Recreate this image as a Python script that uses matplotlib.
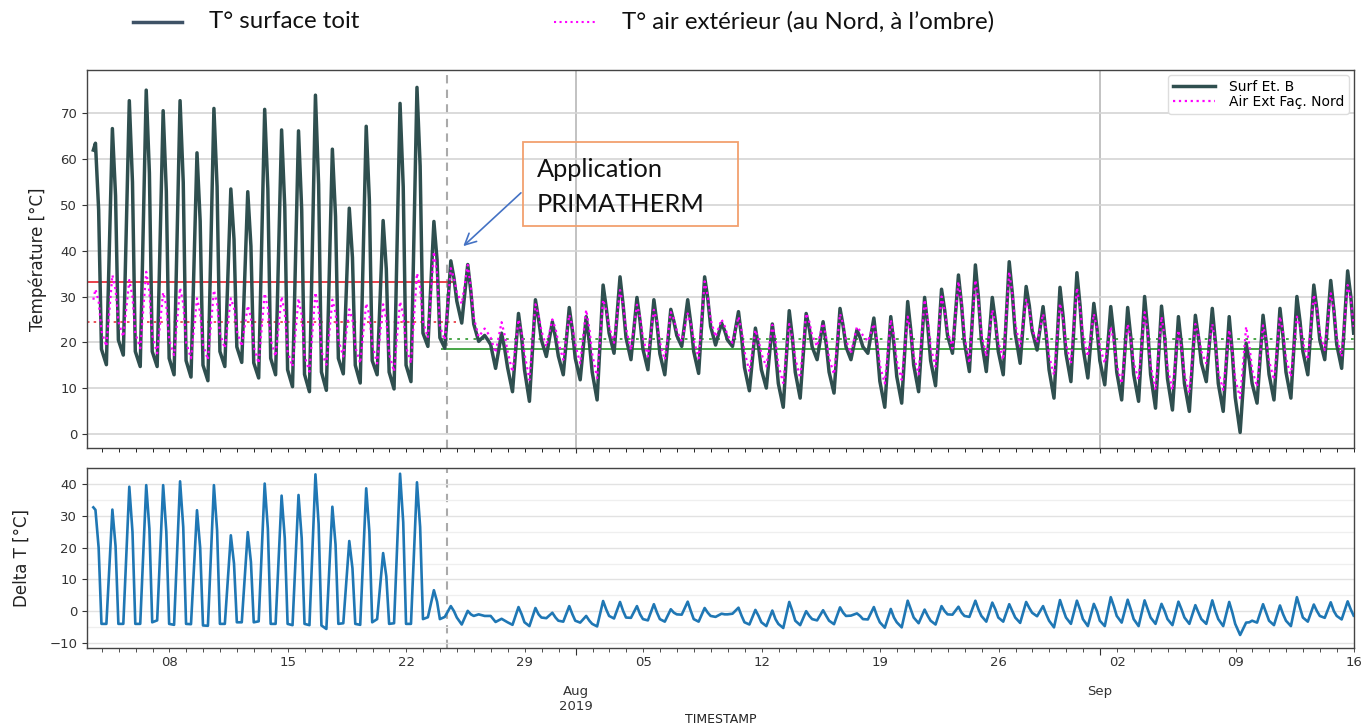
import numpy as np
import pandas as pd
import matplotlib
matplotlib.use('Agg')
import matplotlib.pyplot as plt
import matplotlib.dates as mdates
from matplotlib.ticker import MultipleLocator, FuncFormatter
from matplotlib.lines import Line2D
from matplotlib.patches import Rectangle

nan = np.nan
# ---------------- data ----------------
days = pd.date_range('2019-07-03', '2019-09-15', freq='D')

# roof surface temperature: morning min (06h30), afternoon max (15h), early evening (19h30), night (23h30)
s_min = [nan, 15.1, 17.2, 14.7, 14.7, 12.9, 12.4, 11.6, 14.7, 15.6, 12.2, 12.9, 10.3, 9.2, 9.5, 13.1,
         11.1, 12.9, 9.8, 11.4, 19.1, 18.7, 24.2, 20.2, 14.3, 9.2, 7.1, 16.9, 12.9, 11.8, 7.4,
         17.6, 16.2, 14.0, 12.9, 19.1, 13.2, 19.4, 19.1, 9.4, 10.0, 5.8, 7.8, 16.2, 8.9, 16.2,
         17.6, 5.8, 6.7, 9.2, 10.5, 17.6, 13.6, 13.6, 12.9, 15.4, 18.3, 7.8, 11.4, 12.2, 10.7,
         7.4, 7.1, 5.6, 5.2, 4.9, 11.4, 4.9, 0.3, 6.7, 7.4, 7.8, 12.9, 16.2, 14.3]
s_max = [63.5, 66.7, 72.8, 75.1, 70.6, 72.8, 61.4, 71.1, 53.5, 52.9, 70.9, 66.4, 66.2, 74.0, 62.2,
         49.3, 67.2, 46.6, 72.2, 75.7, 46.4, 37.8, 37.0, 21.5, 22.0, 26.3, 29.3, 24.5, 27.6, 25.6,
         32.5, 34.3, 29.8, 29.3, 27.2, 29.3, 34.3, 24.2, 26.7, 23.1, 24.0, 26.9, 26.3, 24.5, 27.4,
         22.7, 25.3, 25.6, 28.9, 29.8, 31.6, 34.7, 36.9, 29.8, 37.6, 32.2, 27.8, 32.0, 35.2, 28.5,
         27.8, 27.6, 30.0, 27.9, 25.6, 25.9, 27.4, 25.6, 19.8, 25.9, 27.4, 30.0, 32.5, 33.5, 35.6]
s_fall = [49, 52, 55, 57, 53, 55, 46.5, 54, 42.5, 41, 53.5, 49.5, 49, 54.5, 47.5,
          38.5, 51, 36, 54, 58.5, 38, 34, 31, 20.5, 18.5, 21, 25, 21, 22.5, 20,
          27.5, 28, 24.5, 24, 24.5, 24, 29.5, 22.5, 21, 19, 18, 21, 23, 19.5, 23.5,
          21, 19, 19.5, 22.5, 23.5, 27, 28, 29.5, 24.5, 30.5, 28, 21.5, 25.5, 28, 23,
          21.5, 21, 22.5, 21, 19, 21, 20, 17.5, 16, 20, 21, 24.5, 27, 27, 30]
s_night = [18.5, 20.5, 18.0, 18.0, 16.5, 16.0, 15.0, 18.0, 19.0, 15.5, 16.5, 14.0, 13.0, 13.5, 16.5,
           15.0, 16.0, 13.5, 15.0, 22.0, 21.0, 29.0, 24.0, 19.5, 14.5, 14.0, 20.5, 17.0, 16.5, 13.5,
           22.0, 21.0, 18.5, 17.5, 21.5, 18.0, 23.5, 20.5, 14.5, 14.0, 11.0, 13.5, 19.0, 13.5, 19.0,
           19.0, 11.5, 12.5, 15.0, 16.0, 21.5, 20.0, 20.5, 18.0, 22.0, 22.5, 14.0, 17.5, 19.0, 16.0,
           13.5, 13.0, 13.0, 12.0, 11.0, 15.5, 11.0, 8.0, 11.0, 13.0, 13.5, 18.0, 20.5, 19.5, 22.0]

# outside air temperature (north facade, shade)
a_min = [nan, 19.1, 21.2, 18.7, 17.6, 17.2, 16.5, 16.2, 18.7, 19.1, 15.4, 16.9, 14.7, 13.6, 15.1, 16.9,
         15.4, 15.4, 13.6, 15.4, 21.0, 20.5, 28.4, 21.2, 17.7, 13.5, 11.8, 19.1, 16.2, 15.4, 12.2,
         19.9, 18.3, 16.9, 16.2, 20.2, 16.5, 21.2, 19.9, 13.6, 14.7, 11.1, 12.2, 19.1, 13.0, 17.6,
         20.2, 11.0, 11.8, 13.0, 14.7, 18.7, 15.4, 16.9, 16.2, 19.1, 19.9, 12.9, 15.4, 16.9, 15.4,
         11.0, 11.8, 9.6, 9.6, 8.9, 15.4, 9.6, 7.8, 10.3, 11.8, 12.5, 16.2, 18.3, 16.9]
a_max = [31.6, 34.7, 33.6, 35.4, 30.9, 31.9, 29.6, 31.4, 29.6, 28.0, 30.7, 30.0, 29.6, 30.9, 29.3,
         27.2, 28.5, 28.3, 28.9, 35.1, 39.8, 36.2, 36.9, 23.0, 24.4, 25.0, 28.3, 25.0, 26.0, 27.1,
         29.3, 31.4, 28.2, 27.1, 26.6, 26.3, 33.3, 25.0, 25.6, 22.7, 23.8, 24.0, 26.3, 24.2, 26.2,
         23.4, 24.0, 24.9, 25.6, 29.3, 30.0, 33.3, 33.6, 27.1, 35.4, 29.3, 26.2, 28.5, 31.9, 26.2,
         23.4, 24.0, 26.6, 25.6, 22.6, 24.0, 24.0, 22.7, 23.4, 23.7, 25.6, 25.6, 30.4, 30.7, 32.5]
a_fall = [29, 31.5, 30, 31, 28, 28.5, 26.5, 28.5, 27.5, 25.5, 27.5, 26.5, 26, 27, 26.5,
          25, 26, 25, 26, 32, 35, 34, 32, 22, 21.5, 22, 26, 23, 23.5, 23,
          27, 28, 25.5, 24.5, 25, 24, 30, 23.5, 22.5, 20.5, 20.5, 21, 24.5, 21, 24,
          22.5, 20.5, 21.5, 22, 25, 27, 28.5, 29, 24, 30.5, 27, 22.5, 25, 27.5, 23,
          20, 20.5, 22, 21, 18.5, 21.5, 20, 18, 19.5, 20.5, 22, 23.5, 27, 27, 29.5]
a_night = [22.5, 24.5, 22.0, 21.5, 20.5, 20.0, 19.5, 22.0, 22.5, 19.0, 20.5, 18.0, 17.0, 18.0, 20.5,
           19.0, 19.5, 17.5, 19.0, 24.5, 23.5, 31.0, 25.5, 21.0, 18.0, 17.5, 22.5, 20.0, 19.5, 17.5,
           23.5, 23.0, 21.0, 20.0, 22.5, 20.5, 25.0, 21.5, 18.0, 17.5, 15.0, 16.5, 21.5, 16.5, 20.5,
           21.5, 15.0, 16.0, 17.0, 19.0, 22.5, 21.5, 22.0, 20.0, 24.0, 23.0, 17.0, 19.5, 21.5, 19.0,
           15.0, 15.5, 15.0, 14.5, 13.0, 18.0, 13.5, 12.0, 14.0, 16.0, 16.5, 20.0, 22.0, 21.0, 23.4]

start_time = pd.Timestamp('2019-07-03 12:00')
s_start, a_start = 62.0, 29.3

# mean levels before / after application
s_mean_before, a_mean_before = 33.2, 24.4
s_mean_after, a_mean_after = 18.5, 20.7
application_time = pd.Timestamp('2019-07-24 09:00')
before_end = pd.Timestamp('2019-07-24 22:00')
after_start = pd.Timestamp('2019-07-24 01:00')

x_start = pd.Timestamp('2019-07-03 03:00')
x_end = pd.Timestamp('2019-09-16 00:00')

# ---------------- build series ----------------
t = [start_time]; S = [s_start]; A = [a_start]
for i, d in enumerate(days):
    for hh, sv, av in ((6.5, s_min[i], a_min[i]), (15.0, s_max[i], a_max[i]),
                       (19.5, s_fall[i], a_fall[i]), (23.5, s_night[i], a_night[i])):
        if np.isnan(sv):
            continue
        tt = d + pd.Timedelta(hours=hh)
        if tt <= start_time:
            continue
        t.append(tt); S.append(sv); A.append(av)
t = pd.DatetimeIndex(t)
S = np.array(S); A = np.array(A)
D = S - A

# ---------------- figure ----------------
fig = plt.figure(figsize=(13.64, 7.27), dpi=100)
L, R = 87 / 1364, 1354 / 1364
ax1 = fig.add_axes([L, 1 - 448 / 727, R - L, (448 - 70) / 727])
ax2 = fig.add_axes([L, 1 - 648 / 727, R - L, (648 - 468) / 727], sharex=ax1)

tick_col = '#333333'
for ax in (ax1, ax2):
    for sp in ax.spines.values():
        sp.set_color('#444444'); sp.set_linewidth(1.0)
    ax.tick_params(axis='both', colors=tick_col, labelsize=9.5)

surf_col = '#2F4F4F'
ax1.plot(t, S, color=surf_col, lw=2.5, label='Surf Et. B', zorder=3, solid_joinstyle='round')
ax1.plot(t, A, color='#FF00FF', lw=1.6, ls=':', label='Air Ext Faç. Nord', zorder=4)
ax1.hlines(s_mean_before, x_start, before_end, color='#E8323C', lw=1.3, zorder=2)
ax1.hlines(a_mean_before, x_start, before_end, color='#E8323C', lw=1.2, ls=(0, (1.5, 2.5)), zorder=2)
ax1.hlines(s_mean_after, after_start, x_end, color='#3A9F3A', lw=1.3, zorder=2)
ax1.hlines(a_mean_after, after_start, x_end, color='#3A9F3A', lw=1.3, ls=(0, (1.5, 3)), zorder=2)
for ax in (ax1, ax2):
    ax.axvline(application_time, color='#AAAAAA', lw=1.5, ls=(0, (4, 3)), zorder=1)

ax1.set_ylim(-3.1, 79.5)
ax1.yaxis.set_major_locator(MultipleLocator(10))
ax1.grid(axis='y', color='#D4D4D4', lw=1.2)
ax1.grid(axis='x', which='major', color='#B8B8B8', lw=1.2)
ax1.set_ylabel('Température [°C]', fontsize=12, color='#222222', labelpad=9.5)
ax1.legend(loc='upper right', fontsize=10, handlelength=3.0, handletextpad=1.0,
           labelspacing=0.1, framealpha=1, edgecolor='#DDDDDD', borderaxespad=0.35,
           borderpad=0.35)

ax2.plot(t, D, color='#1F77B4', lw=1.9, zorder=3, solid_joinstyle='round')
ax2.set_ylim(-11.6, 45.1)
ax2.yaxis.set_major_locator(MultipleLocator(10))
ax2.yaxis.set_minor_locator(MultipleLocator(5))
ax2.tick_params(axis='y', which='minor', length=0)
ax2.grid(axis='y', which='major', color='#E2E2E2', lw=1.0)
ax2.grid(axis='y', which='minor', color='#EFEFEF', lw=0.9)
ax2.set_ylabel('Delta T [°C]', fontsize=12, color='#222222', labelpad=13)

ax1.set_xlim(x_start, x_end)
ax2.xaxis.set_major_locator(mdates.MonthLocator())
ax2.xaxis.set_minor_locator(mdates.DayLocator())

def major_fmt(x, pos=None):
    d = mdates.num2date(x)
    return d.strftime('%b') + ('\n%d' % d.year if d.month == 8 else '')

def minor_fmt(x, pos=None):
    d = mdates.num2date(x)
    return d.strftime('%d') if d.weekday() == 0 else ''

ax2.xaxis.set_major_formatter(FuncFormatter(major_fmt))
ax2.xaxis.set_minor_formatter(FuncFormatter(minor_fmt))
ax2.tick_params(axis='x', which='major', length=5, pad=22, labelsize=9.5)
ax2.tick_params(axis='x', which='minor', length=3, pad=3, labelsize=9.5, colors=tick_col)
ax1.tick_params(axis='x', which='both', labelbottom=False)
ax1.tick_params(axis='x', which='minor', length=3)
ax2.set_xlabel('TIMESTAMP', fontsize=9, color='#222222', labelpad=-0.5)

# annotation
ax1.add_patch(Rectangle((0.3444, 0.587), 0.514 - 0.3444, 0.810 - 0.587, transform=ax1.transAxes,
                        fill=False, edgecolor='#F2A06E', lw=1.3, zorder=6))
ax1.text(0.3549, 0.7177, 'Application', transform=ax1.transAxes, fontsize=18.3,
         family=['Lato', 'DejaVu Sans'], va='baseline', ha='left', color='#111111', zorder=7)
ax1.text(0.3549, 0.6251, 'PRIMATHERM', transform=ax1.transAxes, fontsize=18.3,
         family=['Lato', 'DejaVu Sans'], va='baseline', ha='left', color='#111111', zorder=7)
ax1.annotate('', xy=(0.297, 0.534), xytext=(0.3425, 0.675), xycoords='axes fraction',
             textcoords='axes fraction',
             arrowprops=dict(arrowstyle='->', color='#4472C4', lw=1.2, mutation_scale=20,
                             shrinkA=0, shrinkB=0), zorder=7)

# top legend (outside)
fig.add_artist(Line2D([133 / 1364, 182 / 1364], [1 - 22 / 727] * 2, transform=fig.transFigure,
                      color='#3E5266', lw=2.5))
fig.text(209 / 1364, 1 - 22 / 727, 'T° surface toit', fontsize=17.3, family=['Lato', 'DejaVu Sans'],
         va='center', ha='left', color='#111111')
fig.add_artist(Line2D([554 / 1364, 596 / 1364], [1 - 22 / 727] * 2, transform=fig.transFigure,
                      color='#FF00FF', lw=1.5, ls=':'))
fig.text(622 / 1364, 1 - 22 / 727, 'T° air extérieur (au Nord, à l’ombre)', fontsize=17.3,
         family=['Lato', 'DejaVu Sans'], va='center', ha='left', color='#111111')

fig.savefig('out.png', dpi=100)
